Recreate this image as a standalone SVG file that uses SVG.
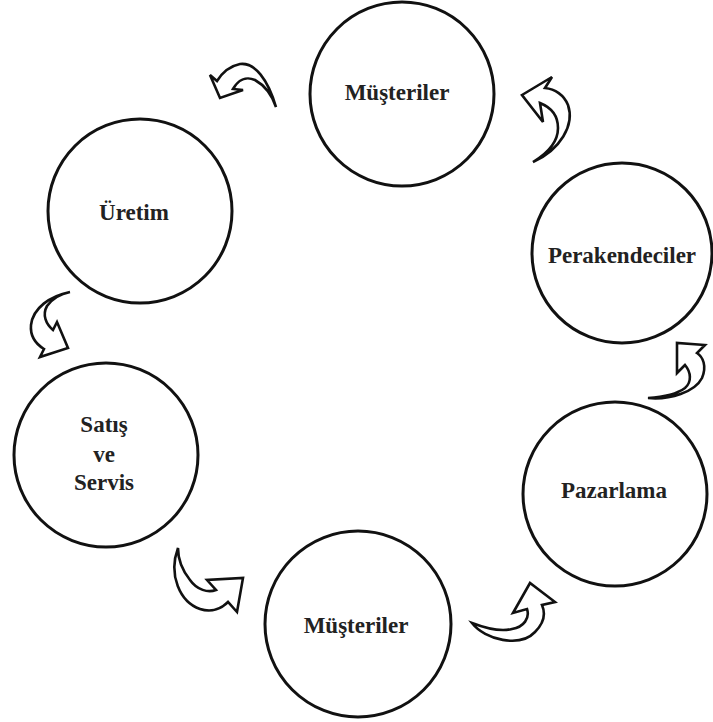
<svg xmlns="http://www.w3.org/2000/svg" width="713" height="722" viewBox="0 0 713 722">
<style>
.c{fill:#fff;stroke:#111;stroke-width:3}
.t{font-family:"Liberation Serif","Times New Roman",serif;font-weight:bold;font-size:23px;fill:#222;text-anchor:middle}
.a{fill:#fff;stroke:#111;stroke-width:2.6;stroke-linejoin:miter}
</style>
<rect width="713" height="722" fill="#fff"/>
<g id="musteriler-top"><circle class="c" cx="402" cy="94" r="92"/><text class="t" x="397" y="100">Müşteriler</text></g>
<g id="perakendeciler"><circle class="c" cx="622" cy="253" r="90"/><text class="t" x="622" y="263">Perakendeciler</text></g>
<g id="pazarlama"><circle class="c" cx="615" cy="494" r="92"/><text class="t" x="614" y="498">Pazarlama</text></g>
<g id="musteriler-bottom"><circle class="c" cx="358" cy="624" r="93"/><text class="t" x="356" y="633">Müşteriler</text></g>
<g id="satis-ve-servis"><circle class="c" cx="106" cy="455" r="92"/><text class="t" x="104" y="432">Satış</text><text class="t" x="104" y="462">ve</text><text class="t" x="104" y="490">Servis</text></g>
<g id="uretim"><circle class="c" cx="140" cy="211" r="92"/><text class="t" x="134" y="220">Üretim</text></g>
<g id="connectors">
<path class="a" d="M276,107 C268,80 255,62 240,64 C230,66 222,73 217,81 L210,75 L220,98 L243,90 L233,89 C238,80 246,76 255,80 C264,85 272,95 276,107 Z"/>
<path class="a" d="M533,162 C560,150 575,125 568,105 C564,95 555,89 545,88 L552,77 L522,95 L543,122 L540,103 C550,107 558,115 558,128 C558,142 548,153 533,162 Z"/>
<path class="a" d="M648,398 C670,400 695,392 702,378 C707,366 703,357 697,353 L705,345 L677,343 L677,373 L685,365 C691,372 692,382 685,388 C677,394 663,397 648,398 Z"/>
<path class="a" d="M472,623 C485,640 520,648 535,632 C545,622 545,612 542,605 L555,602 L530,583 L513,613 L527,609 C530,618 524,627 512,629 C500,632 485,628 472,623 Z"/>
<path class="a" d="M178,548 C168,575 180,602 200,609 C212,613 222,608 228,602 L237,612 L243,578 L207,580 L216,590 C208,593 197,590 190,580 C182,570 178,558 178,548 Z"/>
<path class="a" d="M70,292 C50,296 33,308 31,325 C30,336 36,344 44,349 L40,357 L68,348 L57,322 L53,330 C46,324 42,315 47,306 C52,299 60,294 70,292 Z"/>
</g>
</svg>
